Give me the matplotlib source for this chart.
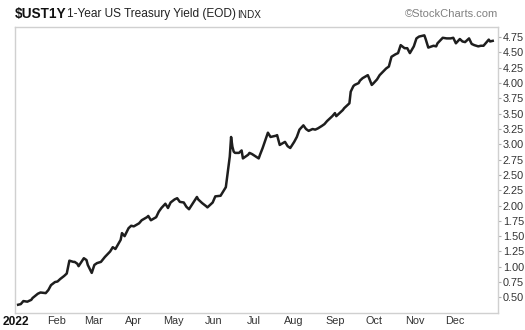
import matplotlib
matplotlib.use("Agg")
import matplotlib.pyplot as plt
import pandas as pd

plt.rcParams["font.family"] = ["Liberation Sans", "DejaVu Sans"]

dates = [
    "2022-01-03", "2022-01-05", "2022-01-07", "2022-01-10", "2022-01-13", "2022-01-14",
    "2022-01-18", "2022-01-20", "2022-01-24", "2022-01-26", "2022-01-28", "2022-01-31",
    "2022-02-02", "2022-02-04", "2022-02-07", "2022-02-09", "2022-02-11", "2022-02-14",
    "2022-02-15", "2022-02-17", "2022-02-18", "2022-02-22", "2022-02-24", "2022-02-25",
    "2022-02-28", "2022-03-02", "2022-03-04", "2022-03-07", "2022-03-10", "2022-03-14",
    "2022-03-16", "2022-03-18", "2022-03-22", "2022-03-23", "2022-03-25", "2022-03-28",
    "2022-03-30", "2022-04-01", "2022-04-05", "2022-04-07", "2022-04-11", "2022-04-12",
    "2022-04-14", "2022-04-18", "2022-04-20", "2022-04-22", "2022-04-25", "2022-04-27",
    "2022-04-29", "2022-05-02", "2022-05-04", "2022-05-06", "2022-05-09", "2022-05-11",
    "2022-05-13", "2022-05-16", "2022-05-19", "2022-05-20", "2022-05-23", "2022-05-26",
    "2022-05-27", "2022-05-31", "2022-06-02", "2022-06-06", "2022-06-08", "2022-06-10",
    "2022-06-13", "2022-06-14", "2022-06-15", "2022-06-16", "2022-06-17", "2022-06-20",
    "2022-06-22", "2022-06-23", "2022-06-27", "2022-06-28", "2022-06-30", "2022-07-05",
    "2022-07-06", "2022-07-08", "2022-07-12", "2022-07-14", "2022-07-18", "2022-07-19",
    "2022-07-21", "2022-07-25", "2022-07-27", "2022-07-29", "2022-08-01", "2022-08-03",
    "2022-08-05", "2022-08-08", "2022-08-10", "2022-08-12", "2022-08-15", "2022-08-17",
    "2022-08-19", "2022-08-22", "2022-08-24", "2022-08-26", "2022-08-30", "2022-09-01",
    "2022-09-02", "2022-09-07", "2022-09-08", "2022-09-12", "2022-09-13", "2022-09-15",
    "2022-09-16", "2022-09-19", "2022-09-20", "2022-09-22", "2022-09-26", "2022-09-27",
    "2022-09-29", "2022-09-30", "2022-10-03", "2022-10-05", "2022-10-10", "2022-10-12",
    "2022-10-14", "2022-10-17", "2022-10-19", "2022-10-21", "2022-10-24", "2022-10-26",
    "2022-10-28", "2022-10-31", "2022-11-02", "2022-11-04", "2022-11-08", "2022-11-09",
    "2022-11-11", "2022-11-15", "2022-11-17", "2022-11-18", "2022-11-22", "2022-11-25",
    "2022-11-28", "2022-11-30", "2022-12-02", "2022-12-05", "2022-12-07", "2022-12-09",
    "2022-12-12", "2022-12-14", "2022-12-16", "2022-12-19", "2022-12-21", "2022-12-23",
    "2022-12-27", "2022-12-28", "2022-12-30",
]
yields = [
    0.38, 0.39, 0.44, 0.43, 0.46, 0.49,
    0.56, 0.58, 0.57, 0.62, 0.70, 0.75,
    0.76, 0.80, 0.85, 0.89, 1.10, 1.08,
    1.08, 1.05, 1.01, 1.14, 1.11, 1.03,
    0.90, 1.03, 1.06, 1.08, 1.16, 1.25,
    1.32, 1.29, 1.44, 1.55, 1.50, 1.63,
    1.67, 1.66, 1.71, 1.76, 1.81, 1.83,
    1.76, 1.81, 1.90, 1.96, 2.03, 1.96,
    2.05, 2.10, 2.12, 2.06, 2.05, 1.98,
    1.94, 2.04, 2.14, 2.10, 2.04, 1.99,
    1.97, 2.05, 2.15, 2.16, 2.23, 2.30,
    2.80, 3.12, 2.96, 2.88, 2.86, 2.86,
    2.90, 2.77, 2.83, 2.86, 2.84, 2.77,
    2.83, 2.94, 3.19, 3.12, 3.14, 3.15,
    2.99, 3.04, 2.97, 2.94, 3.04, 3.12,
    3.24, 3.31, 3.25, 3.22, 3.25, 3.24,
    3.26, 3.30, 3.33, 3.38, 3.46, 3.51,
    3.46, 3.56, 3.59, 3.67, 3.86, 3.95,
    3.97, 4.00, 4.04, 4.08, 4.13, 4.08,
    3.97, 3.99, 4.06, 4.13, 4.24, 4.27,
    4.43, 4.47, 4.49, 4.62, 4.57, 4.57,
    4.49, 4.60, 4.73, 4.76, 4.78, 4.72,
    4.58, 4.61, 4.60, 4.65, 4.74, 4.73,
    4.73, 4.74, 4.65, 4.72, 4.68, 4.67,
    4.73, 4.64, 4.62, 4.60, 4.61, 4.61,
    4.71, 4.68, 4.69,
]
month_labels = ["2022", "Feb", "Mar", "Apr", "May", "Jun", "Jul", "Aug",
                "Sep", "Oct", "Nov", "Dec"]
y_ticks = [0.50, 0.75, 1.00, 1.25, 1.50, 1.75, 2.00, 2.25, 2.50, 2.75,
           3.00, 3.25, 3.50, 3.75, 4.00, 4.25, 4.50, 4.75]

x = pd.to_datetime(dates)
month_starts = pd.date_range("2022-01-01", periods=12, freq="MS")

fig = plt.figure(figsize=(5.25, 3.3), dpi=100)
fig.patch.set_facecolor("white")
ax = fig.add_axes([0.0295, 0.0515, 0.919, 0.867])
ax.set_facecolor("white")

ax.plot(x, yields, color="#1e1e1e", linewidth=1.8, solid_joinstyle="round")

ax.set_xlim(pd.Timestamp("2022-01-02 14:00"), pd.Timestamp("2023-01-03"))
ax.set_ylim(0.245, 4.918)

for s in ax.spines.values():
    s.set_color("#d0d0d0")
    s.set_linewidth(1.0)

ax.yaxis.tick_right()
ax.set_yticks(y_ticks)
ax.set_yticklabels([f"{v:.2f}" for v in y_ticks])
ax.tick_params(axis="y", which="both", direction="out", length=2.5, width=0.8,
               color="#b0b0b0", labelsize=7.8, labelcolor="#333333", pad=1)

ax.set_xticks(month_starts)
ax.set_xticklabels(month_labels)
ax.tick_params(axis="x", length=0, labelsize=7.8, labelcolor="#333333", pad=2.5)
lbl0 = ax.get_xticklabels()[0]
lbl0.set_fontweight("bold")
lbl0.set_fontsize(8.6)
lbl0.set_color("#111111")

fig.text(0.028, 0.958, r"\$UST1Y", fontsize=9.8, fontweight="bold",
         color="#111111", ha="left", va="center")
fig.text(0.128, 0.958, "1-Year US Treasury Yield (EOD)", fontsize=8.6,
         color="#222222", ha="left", va="center")
fig.text(0.452, 0.956, "INDX", fontsize=7.2, color="#222222",
         ha="left", va="center")
fig.text(0.948, 0.958, "\u00a9StockCharts.com", fontsize=8,
         color="#808080", ha="right", va="center")

fig.savefig("out.png", dpi=100, facecolor="white")
